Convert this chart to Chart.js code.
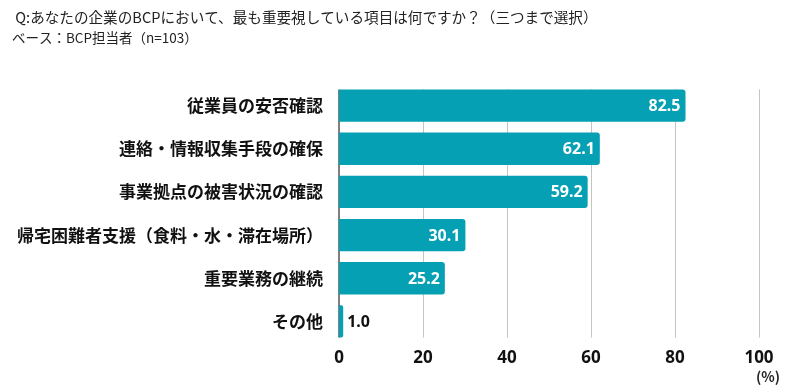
<!DOCTYPE html>
<html>
<head>
<meta charset="utf-8">
<script src="https://cdn.jsdelivr.net/npm/chart.js@4"></script>
<style>
  body { margin: 0; background: #fff; }
</style>
</head>
<body>
<canvas id="myChart" width="800" height="392"></canvas>
<script>
const labels = [
  '従業員の安否確認',
  '連絡・情報収集手段の確保',
  '事業拠点の被害状況の確認',
  '帰宅困難者支援（食料・水・滞在場所）',
  '重要業務の継続',
  'その他'
];
const values = [82.5, 62.1, 59.2, 30.1, 25.2, 1.0];
const xTicks = [0, 20, 40, 60, 80, 100];
const titleLines = [
  ' Q:あなたの企業のBCPにおいて、最も重要視している項目は何ですか？（三つまで選択）',
  'ベース：BCP担当者（n=103）'
];
const unitLabel = '(%)';

const jp = '"Noto Sans CJK JP", "Noto Sans", sans-serif';
const barColor = '#05a0b4';

// 背景・タイトル・単位
const plugin = {
  id: 'decor',
  beforeDraw: (chart) => {
    const {ctx} = chart;
    ctx.save();
    ctx.fillStyle = 'white';
    ctx.fillRect(0, 0, chart.width, chart.height);
    ctx.fillStyle = '#222';
    ctx.textBaseline = 'middle';
    ctx.textAlign = 'left';
    ctx.font = '14.6px ' + jp;
    ctx.fillText(titleLines[0], 12, 17);
    ctx.font = '13.5px ' + jp;
    ctx.fillText(titleLines[1], 12, 38);
    ctx.font = 'bold 14px ' + jp;
    ctx.textAlign = 'center';
    ctx.fillText(unitLabel, 768, 377);
    ctx.restore();
  },
  // グリッド線と軸線（棒の範囲だけ）
  beforeDatasetsDraw: (chart) => {
    const {ctx} = chart;
    const meta = chart.getDatasetMeta(0);
    const first = meta.data[0], last = meta.data[meta.data.length - 1];
    const top = first.y - first.height / 2;
    const bottom = last.y + last.height / 2;
    const xs = chart.scales.x;
    ctx.save();
    xTicks.forEach(v => {
      if (v === 0) return;
      const px = Math.round(xs.getPixelForValue(v)) + 0.5;
      ctx.strokeStyle = '#c4c4c4';
      ctx.lineWidth = 1;
      ctx.beginPath();
      ctx.moveTo(px, top);
      ctx.lineTo(px, bottom);
      ctx.stroke();
    });
    const p0 = xs.getPixelForValue(0);
    ctx.strokeStyle = '#555';
    ctx.lineWidth = 1.5;
    ctx.beginPath();
    ctx.moveTo(p0, top);
    ctx.lineTo(p0, bottom);
    ctx.stroke();
    ctx.restore();
  },
  // 値ラベル
  afterDatasetsDraw: (chart) => {
    const {ctx} = chart;
    const meta = chart.getDatasetMeta(0);
    ctx.save();
    ctx.font = 'bold 16px "Noto Sans", sans-serif';
    ctx.textBaseline = 'middle';
    meta.data.forEach((bar, i) => {
      const txt = values[i].toFixed(1);
      const w = ctx.measureText(txt).width;
      if (bar.x - bar.base > w + 12) {
        ctx.fillStyle = '#fff';
        ctx.textAlign = 'right';
        ctx.fillText(txt, bar.x - 5, bar.y + 1);
      } else {
        ctx.fillStyle = '#111';
        ctx.textAlign = 'left';
        ctx.fillText(txt, bar.x + 4, bar.y + 1);
      }
    });
    ctx.restore();
  }
};

const data = {
  labels: labels,
  datasets: [{
    data: values,
    backgroundColor: barColor,
    borderRadius: 3,
    borderSkipped: 'start',
    barPercentage: 0.75,
    categoryPercentage: 1
  }]
};

const config = {
  type: 'bar',
  data: data,
  options: {
    indexAxis: 'y',
    responsive: false,
    animation: false,
    layout: {
      padding: {top: 84, right: 41, bottom: 19, left: 0}
    },
    plugins: {
      legend: {display: false},
      tooltip: {enabled: false}
    },
    scales: {
      x: {
        type: 'linear',
        min: 0,
        max: 100,
        afterBuildTicks: (scale) => { scale.ticks = xTicks.map(v => ({value: v})); },
        afterFit: (scale) => { scale.height = 30; },
        grid: {display: false},
        border: {display: false},
        ticks: {
          padding: -3,
          color: '#111',
          font: {family: '"Noto Sans", sans-serif', size: 17, weight: 'bold'}
        }
      },
      y: {
        afterFit: (scale) => { scale.width = 339; },
        grid: {display: false},
        border: {display: false},
        ticks: {
          padding: 8,
          color: '#111',
          font: {family: jp, size: 17, weight: 'bold'}
        }
      }
    }
  },
  plugins: [plugin]
};

const myChart = new Chart(
  document.getElementById('myChart'),
  config
);
</script>
</body>
</html>
